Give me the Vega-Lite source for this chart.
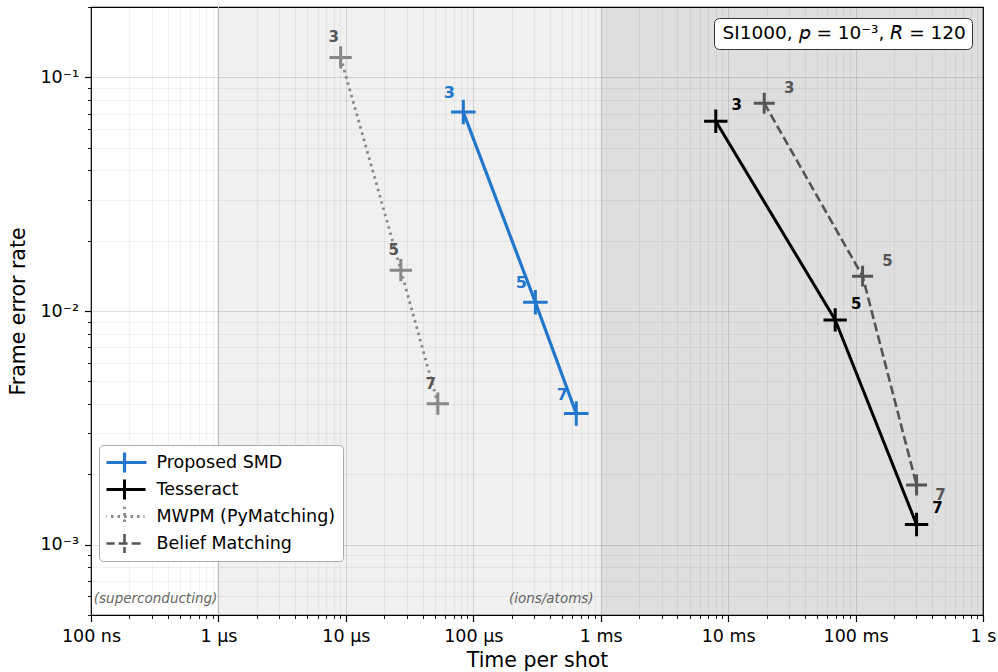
{
  "$schema": "https://vega.github.io/schema/vega-lite/v6.json",
  "width": 892,
  "height": 608,
  "autosize": {"type": "none"},
  "padding": {"left": 91, "top": 7, "right": 15, "bottom": 57},
  "background": "white",
  "config": {
    "font": "DejaVu Sans",
    "view": {"stroke": "black", "strokeWidth": 1.2, "fill": "white"}
  },
  "datasets": {
    "pts": [
      {"method": "Proposed SMD", "d": 3, "t": 8.35e-5, "fer": 0.071},
      {"method": "Proposed SMD", "d": 5, "t": 3.07e-4, "fer": 0.0109},
      {"method": "Proposed SMD", "d": 7, "t": 6.43e-4, "fer": 0.00364},
      {"method": "Tesseract", "d": 3, "t": 8.0e-3, "fer": 0.0649},
      {"method": "Tesseract", "d": 5, "t": 0.0692, "fer": 0.00916},
      {"method": "Tesseract", "d": 7, "t": 0.301, "fer": 0.00122},
      {"method": "MWPM (PyMatching)", "d": 3, "t": 9.1e-6, "fer": 0.1217},
      {"method": "MWPM (PyMatching)", "d": 5, "t": 2.7e-5, "fer": 0.01496},
      {"method": "MWPM (PyMatching)", "d": 7, "t": 5.27e-5, "fer": 0.00401},
      {"method": "Belief Matching", "d": 3, "t": 0.0192, "fer": 0.0775},
      {"method": "Belief Matching", "d": 5, "t": 0.1135, "fer": 0.0141},
      {"method": "Belief Matching", "d": 7, "t": 0.301, "fer": 0.0018}
    ],
    "regions": [
      {"x0": 1e-6, "x1": 1e-3, "shade": "light"},
      {"x0": 1e-3, "x1": 1, "shade": "dark"}
    ],
    "notes": [
      {"t": 9.8e-7, "fer": 5.83e-4, "label": "(superconducting)"},
      {"t": 8.8e-4, "fer": 5.83e-4, "label": "(ions/atoms)"}
    ],
    "box": [{"label": "SI1000, 𝘱 = 10⁻³, 𝘙 = 120"}]
  },
  "layer": [
    {
      "data": {"name": "regions"},
      "mark": {"type": "rect", "color": "black"},
      "encoding": {
        "x": {
          "field": "x0", "type": "quantitative", "title": "Time per shot",
          "scale": {"type": "log", "domain": [1e-7, 1], "nice": false},
          "axis": {
            "values": [1e-7,2e-7,3e-7,4e-7,5e-7,6e-7,7e-7,8e-7,9e-7,1e-6,2e-6,3e-6,4e-6,5e-6,6e-6,7e-6,8e-6,9e-6,1e-5,2e-5,3e-5,4e-5,5e-5,6e-5,7e-5,8e-5,9e-5,1e-4,2e-4,3e-4,4e-4,5e-4,6e-4,7e-4,8e-4,9e-4,1e-3,2e-3,3e-3,4e-3,5e-3,6e-3,7e-3,8e-3,9e-3,1e-2,2e-2,3e-2,4e-2,5e-2,6e-2,7e-2,8e-2,9e-2,0.1,0.2,0.3,0.4,0.5,0.6,0.7,0.8,0.9,1],
            "labelExpr": "abs(log(datum.value)/LN10 - round(log(datum.value)/LN10)) < 0.001 ? ['100 ns','1 µs','10 µs','100 µs','1 ms','10 ms','100 ms','1 s'][round(log(datum.value)/LN10)+7] : ''",
            "labelOverlap": false,
            "labelFlush": false,
            "labelFontSize": 17.5,
            "labelColor": "black",
            "labelPadding": 6,
            "tickColor": "black",
            "tickSize": {"condition": {"test": "abs(log(datum.value)/LN10 - round(log(datum.value)/LN10)) < 0.001", "value": 6.5}, "value": 3.5},
            "tickWidth": {"condition": {"test": "abs(log(datum.value)/LN10 - round(log(datum.value)/LN10)) < 0.001", "value": 1.2}, "value": 0.9},
            "gridColor": "black",
            "gridOpacity": {"condition": {"test": "abs(log(datum.value)/LN10 - round(log(datum.value)/LN10)) < 0.001", "value": 0.12}, "value": 0.05},
            "domain": false,
            "titleFontSize": 20.5,
            "titleFontWeight": "normal",
            "titleColor": "black",
            "titlePadding": 5
          }
        },
        "x2": {"field": "x1"},
        "opacity": {
          "field": "shade", "type": "nominal",
          "scale": {"domain": ["light", "dark"], "range": [0.06, 0.13]},
          "legend": null
        }
      }
    },
    {
      "data": {"values": [{"t": 1e-6}]},
      "mark": {"type": "rule", "color": "#bbbbbb", "strokeWidth": 1.2},
      "encoding": {
        "x": {"field": "t", "type": "quantitative", "title": "Time per shot"}
      }
    },
    {
      "data": {"name": "pts"},
      "mark": {"type": "line"},
      "encoding": {
        "x": {"field": "t", "type": "quantitative", "title": "Time per shot"},
        "y": {
          "field": "fer", "type": "quantitative", "title": "Frame error rate",
          "scale": {"type": "log", "domain": [5e-4, 0.2], "nice": false},
          "axis": {
            "values": [5e-4,6e-4,7e-4,8e-4,9e-4,1e-3,2e-3,3e-3,4e-3,5e-3,6e-3,7e-3,8e-3,9e-3,1e-2,2e-2,3e-2,4e-2,5e-2,6e-2,7e-2,8e-2,9e-2,0.1,0.2],
            "labelExpr": "abs(log(datum.value)/LN10 - round(log(datum.value)/LN10)) < 0.001 ? ['10⁻³','10⁻²','10⁻¹'][round(log(datum.value)/LN10)+3] : ''",
            "labelOverlap": false,
            "labelFlush": false,
            "labelFontSize": 17.5,
            "labelColor": "black",
            "labelPadding": 6,
            "tickColor": "black",
            "tickSize": {"condition": {"test": "abs(log(datum.value)/LN10 - round(log(datum.value)/LN10)) < 0.001", "value": 6.5}, "value": 3.5},
            "tickWidth": {"condition": {"test": "abs(log(datum.value)/LN10 - round(log(datum.value)/LN10)) < 0.001", "value": 1.2}, "value": 0.9},
            "gridColor": "black",
            "gridOpacity": {"condition": {"test": "abs(log(datum.value)/LN10 - round(log(datum.value)/LN10)) < 0.001", "value": 0.12}, "value": 0.05},
            "domain": false,
            "titleFontSize": 20.5,
            "titleFontWeight": "normal",
            "titleColor": "black",
            "titlePadding": 11
          }
        },
        "color": {
          "field": "method", "type": "nominal",
          "scale": {"domain": ["Proposed SMD", "Tesseract", "MWPM (PyMatching)", "Belief Matching"], "range": ["#2277cc", "#000000", "#888888", "#555555"]},
          "legend": {
            "title": null,
            "orient": "none",
            "legendX": 8,
            "legendY": 438,
            "symbolType": "M-1.8,0L1.8,0M0,-0.9L0,0.9",
            "symbolSize": 484,
            "symbolOffset": 4,
            "labelOffset": 18,
            "labelFontSize": 17.5,
            "labelColor": "black",
            "labelLimit": 400,
            "clipHeight": 20,
            "fillColor": "white",
            "strokeColor": "#aaaaaa",
            "cornerRadius": 4,
            "padding": 7.5,
            "rowPadding": 7
          }
        },
        "strokeDash": {
          "field": "method", "type": "nominal",
          "scale": {"domain": ["Proposed SMD", "Tesseract", "MWPM (PyMatching)", "Belief Matching"], "range": [[1, 0], [1, 0], [2.5, 4], [9, 4]]}
        },
        "strokeWidth": {
          "field": "method", "type": "nominal",
          "scale": {"domain": ["Proposed SMD", "Tesseract", "MWPM (PyMatching)", "Belief Matching"], "range": [3.2, 2.6, 2.6, 2.6]}
        },
        "order": {"field": "d"}
      }
    },
    {
      "data": {"name": "pts"},
      "mark": {"type": "point", "shape": "M-1,0L1,0M0,-1L0,1", "filled": false, "strokeWidth": 3, "opacity": 1},
      "encoding": {
        "x": {"field": "t", "type": "quantitative", "title": "Time per shot"},
        "y": {"field": "fer", "type": "quantitative", "title": "Frame error rate"},
        "stroke": {"field": "method", "type": "nominal", "legend": null, "scale": {"domain": ["Proposed SMD", "Tesseract", "MWPM (PyMatching)", "Belief Matching"], "range": ["#2277cc", "#000000", "#888888", "#555555"]}},
        "size": {
          "field": "method", "type": "nominal", "legend": null,
          "scale": {"domain": ["Proposed SMD", "Tesseract", "MWPM (PyMatching)", "Belief Matching"], "range": [600, 440, 440, 440]}
        }
      }
    },
    {
      "data": {"name": "pts"},
      "transform": [{"filter": "datum.method == 'Proposed SMD'"}],
      "mark": {"type": "text", "dx": -14, "dy": -19, "fontSize": 16, "fontWeight": "bold", "color": "#2277cc"},
      "encoding": {
        "x": {"field": "t", "type": "quantitative"},
        "y": {"field": "fer", "type": "quantitative"},
        "text": {"field": "d"}
      }
    },
    {
      "data": {"name": "pts"},
      "transform": [{"filter": "datum.method == 'MWPM (PyMatching)'"}],
      "mark": {"type": "text", "dx": -7, "dy": -20, "fontSize": 15, "fontWeight": "bold", "color": "#555555"},
      "encoding": {
        "x": {"field": "t", "type": "quantitative"},
        "y": {"field": "fer", "type": "quantitative"},
        "text": {"field": "d"}
      }
    },
    {
      "data": {"name": "pts"},
      "transform": [{"filter": "datum.method == 'Tesseract'"}],
      "mark": {"type": "text", "dx": 21, "dy": -16, "fontSize": 15, "fontWeight": "bold", "color": "#000000"},
      "encoding": {
        "x": {"field": "t", "type": "quantitative"},
        "y": {"field": "fer", "type": "quantitative"},
        "text": {"field": "d"}
      }
    },
    {
      "data": {"name": "pts"},
      "transform": [{"filter": "datum.method == 'Belief Matching' && datum.d != 7"}],
      "mark": {"type": "text", "dx": 25, "dy": -15, "fontSize": 15, "fontWeight": "bold", "color": "#555555"},
      "encoding": {
        "x": {"field": "t", "type": "quantitative"},
        "y": {"field": "fer", "type": "quantitative"},
        "text": {"field": "d"}
      }
    },
    {
      "data": {"name": "pts"},
      "transform": [{"filter": "datum.method == 'Belief Matching' && datum.d == 7"}],
      "mark": {"type": "text", "dx": 24, "dy": 10, "fontSize": 15, "fontWeight": "bold", "color": "#555555"},
      "encoding": {
        "x": {"field": "t", "type": "quantitative"},
        "y": {"field": "fer", "type": "quantitative"},
        "text": {"field": "d"}
      }
    },
    {
      "data": {"name": "notes"},
      "mark": {"type": "text", "align": "right", "baseline": "middle", "fontSize": 13.5, "fontStyle": "italic", "color": "#666666"},
      "encoding": {
        "x": {"field": "t", "type": "quantitative"},
        "y": {"field": "fer", "type": "quantitative"},
        "text": {"field": "label"}
      }
    },
    {
      "data": {"name": "box"},
      "mark": {"type": "point", "opacity": 0},
      "encoding": {
        "shape": {
          "field": "label", "type": "nominal",
          "legend": {
            "title": null,
            "orient": "top-right",
            "offset": 11,
            "symbolSize": 0,
            "symbolOpacity": 0,
            "symbolStrokeWidth": 0,
            "labelOffset": -16,
            "labelFontSize": 18.5,
            "labelColor": "black",
            "labelLimit": 400,
            "strokeColor": "#333333",
            "fillColor": "white",
            "cornerRadius": 5,
            "padding": 6
          }
        }
      }
    }
  ]
}
